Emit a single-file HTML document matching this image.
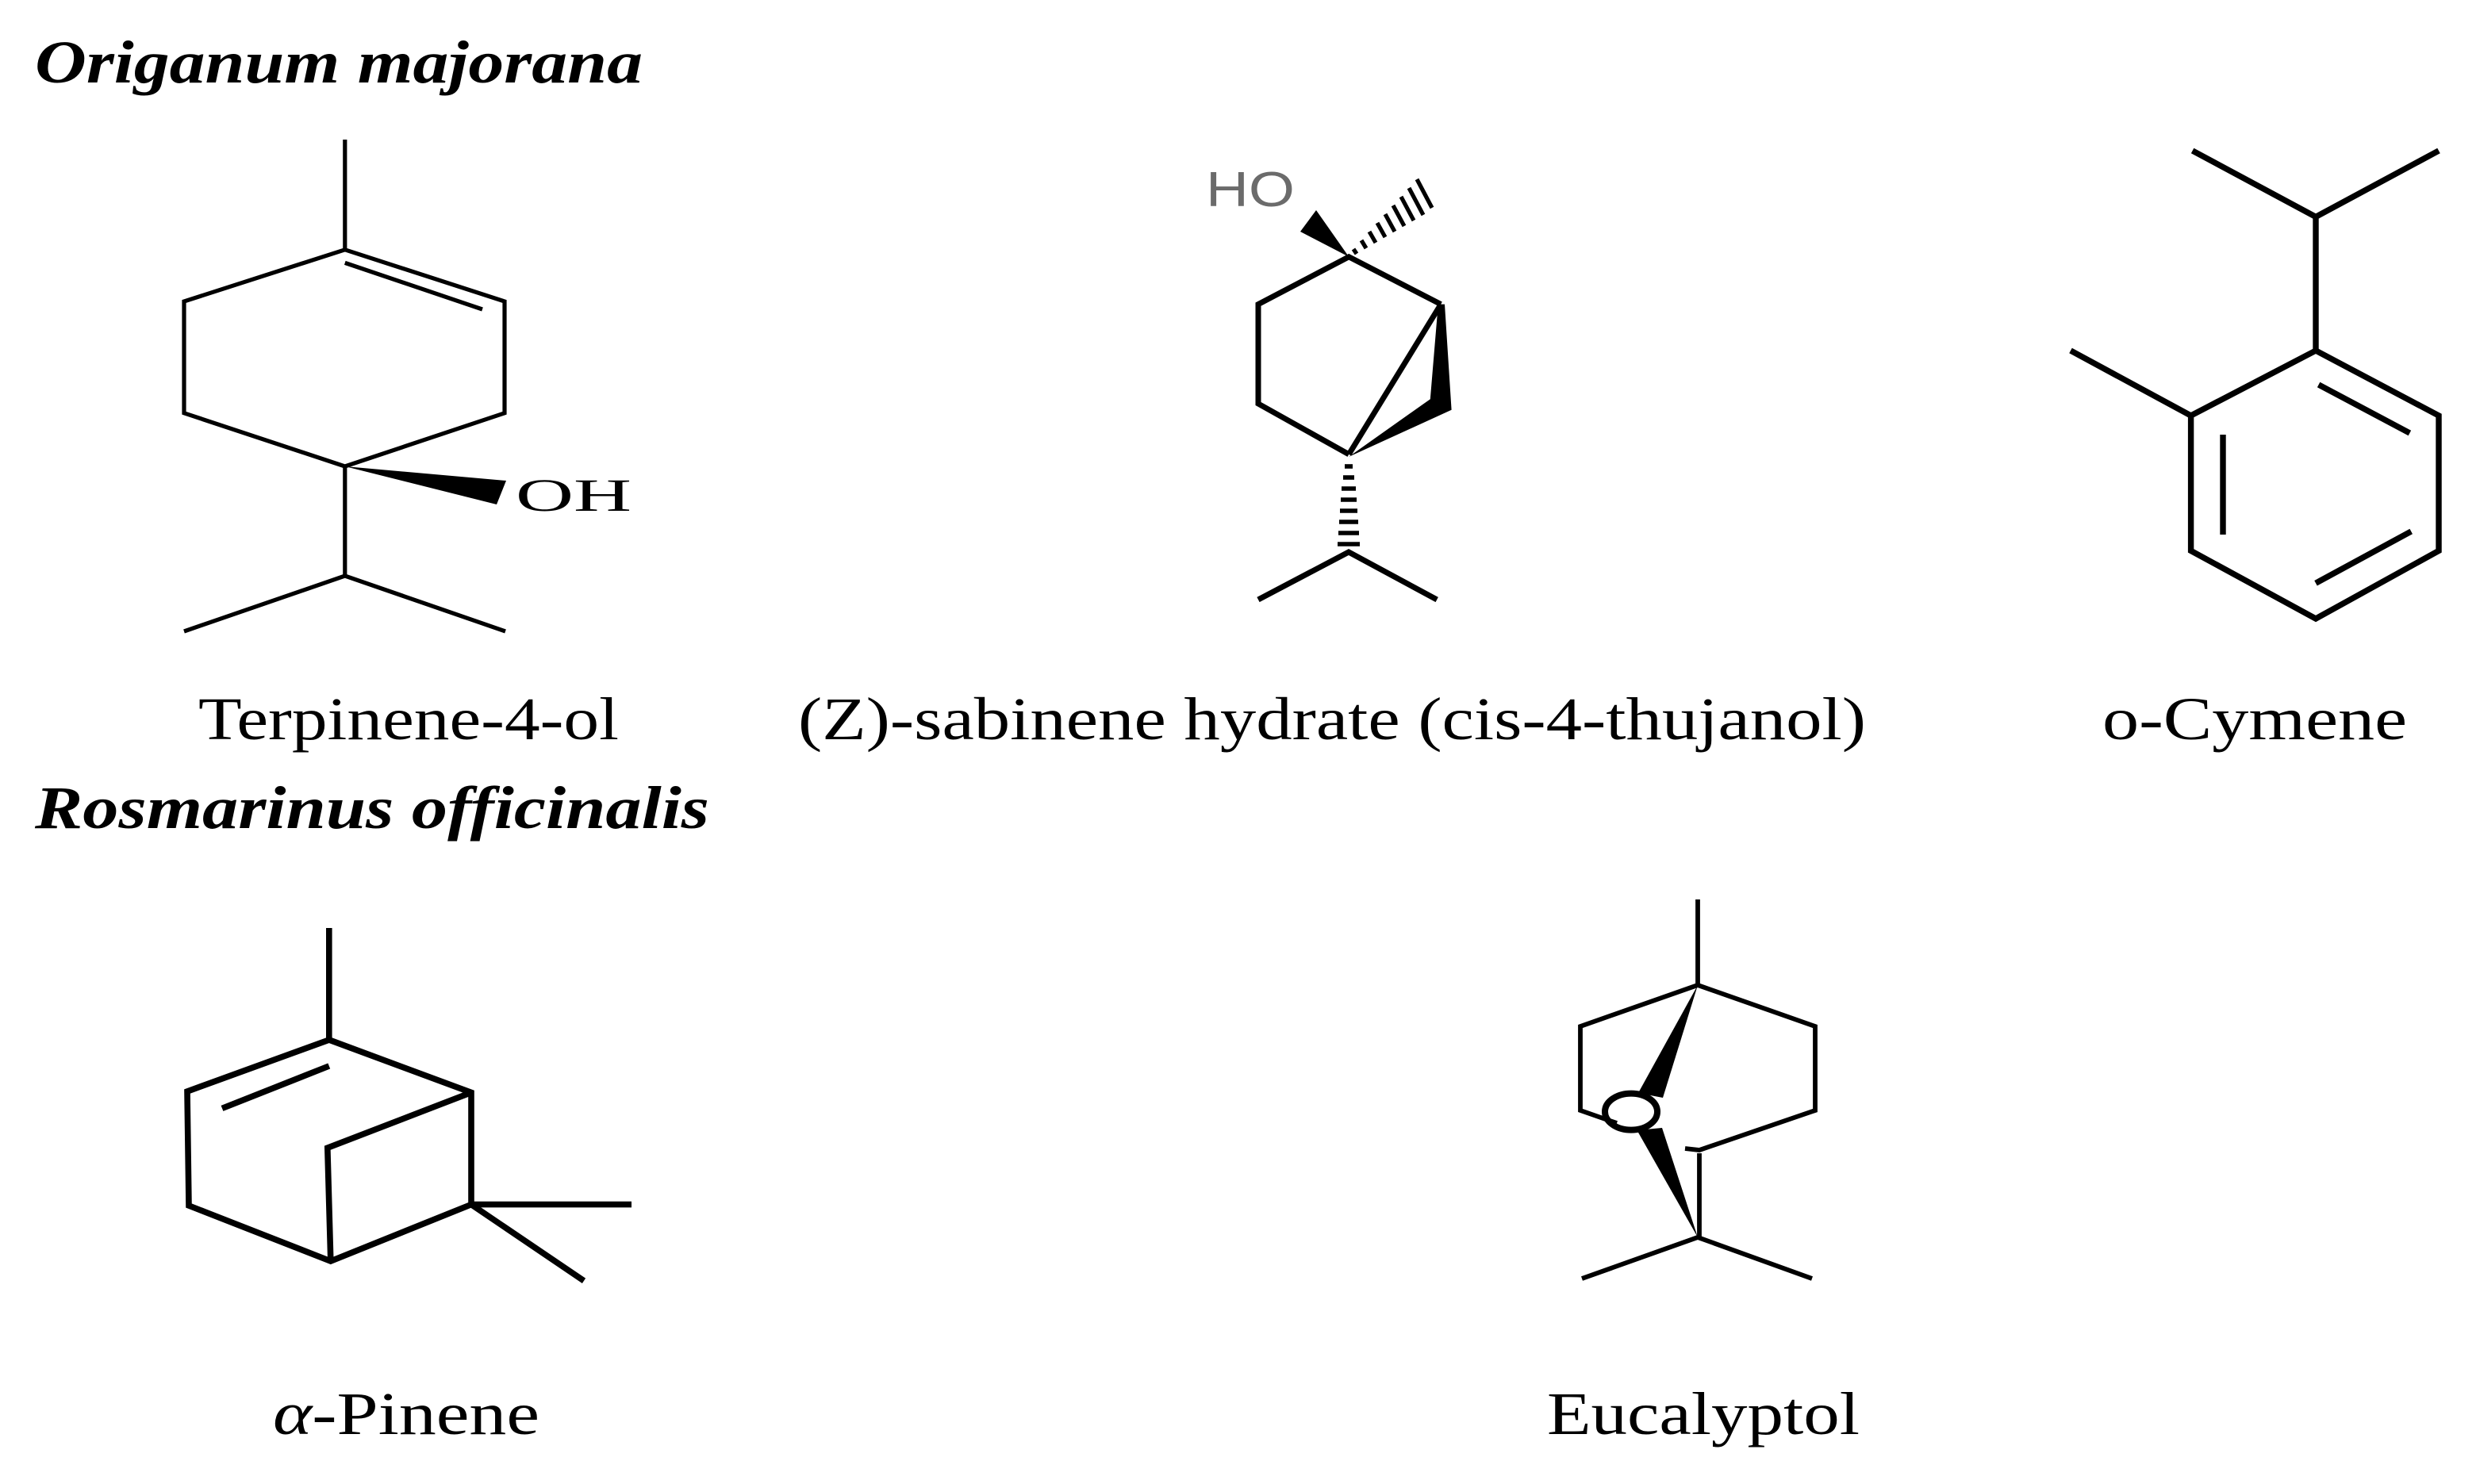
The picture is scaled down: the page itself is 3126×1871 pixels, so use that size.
<!DOCTYPE html>
<html><head><meta charset="utf-8"><style>
html,body{margin:0;padding:0;background:#fff;}
svg{display:block;}
</style></head><body>
<svg width="3126" height="1871" viewBox="0 0 1563 935.5" xmlns="http://www.w3.org/2000/svg">
<rect width="1563" height="935.5" fill="#fff"/>
<g font-family="Liberation Serif, serif" fill="#000">
<text x="22" y="52" font-size="38" font-weight="bold" font-style="italic" textLength="383" lengthAdjust="spacingAndGlyphs">Origanum majorana</text>
<text x="22" y="522" font-size="38" font-weight="bold" font-style="italic" textLength="425" lengthAdjust="spacingAndGlyphs">Rosmarinus officinalis</text>
<text x="125" y="466" font-size="38" textLength="265" lengthAdjust="spacingAndGlyphs">Terpinene-4-ol</text>
<text x="503" y="466" font-size="38" textLength="673" lengthAdjust="spacingAndGlyphs">(Z)-sabinene hydrate (cis-4-thujanol)</text>
<text x="1325" y="466" font-size="38" textLength="192" lengthAdjust="spacingAndGlyphs">o-Cymene</text>
<text x="172" y="904" font-size="38" textLength="168" lengthAdjust="spacingAndGlyphs"><tspan font-style="italic">α</tspan>-Pinene</text>
<text x="975" y="904" font-size="38" textLength="197" lengthAdjust="spacingAndGlyphs">Eucalyptol</text>
</g>

<!-- Terpinene-4-ol -->
<g stroke="#000" stroke-width="2.6" fill="none" stroke-linejoin="miter">
<line x1="217.4" y1="88" x2="217.4" y2="157.4"/>
<polygon points="217.4,157.4 318,190 318,260.4 217.4,294 116,260.4 116,190"/>
<line x1="217.4" y1="165.7" x2="304" y2="195"/>
<line x1="217.4" y1="294" x2="217.4" y2="363"/>
<polyline points="116,398 217.4,363 318.5,398"/>
</g>
<polygon points="217.4,294 319,303 313,318" fill="#000"/>
<text x="325" y="322" font-family="Liberation Serif, serif" font-size="29" fill="#000" textLength="73" lengthAdjust="spacingAndGlyphs">OH</text>

<!-- Sabinene hydrate -->
<text x="760" y="130" font-family="Liberation Sans, sans-serif" font-size="31" fill="#6b6b6b" textLength="56" lengthAdjust="spacingAndGlyphs">HO</text>
<g stroke="#000" stroke-width="3.5" fill="none">
<polyline points="908.1,191.8 850.1,161.9 793,191.8 793,254.5 850.1,286.4"/>
<line x1="908.1" y1="191.8" x2="850.1" y2="286.4"/>
<polyline points="793,378 850,348 905.6,378"/>
</g>
<polygon points="850.1,161.9 819.5,146 829.5,132.5" fill="#000"/>
<polygon points="906.4,191.8 910.5,191.8 914.8,258.4 850,288 901.4,251.6" fill="#000"/>
<g stroke="#000" stroke-width="2.6">
<line x1="853" y1="157" x2="855" y2="160"/>
<line x1="858" y1="151.5" x2="861" y2="156.5"/>
<line x1="863" y1="146" x2="867" y2="153"/>
<line x1="868" y1="140.5" x2="873" y2="149.5"/>
<line x1="873" y1="135" x2="879" y2="146"/>
<line x1="878" y1="129.5" x2="885" y2="142.5"/>
<line x1="883" y1="124" x2="891" y2="139"/>
<line x1="888" y1="118.5" x2="897" y2="135.5"/>
<line x1="893" y1="113" x2="902.5" y2="131"/>
</g>
<g stroke="#000" stroke-width="2.8">
<line x1="847.5" y1="294" x2="852.5" y2="294"/>
<line x1="846.5" y1="301" x2="853.5" y2="301"/>
<line x1="845.5" y1="308" x2="854.5" y2="308"/>
<line x1="845" y1="315" x2="855" y2="315"/>
<line x1="844.5" y1="322" x2="855.5" y2="322"/>
<line x1="844" y1="329" x2="856" y2="329"/>
<line x1="843.5" y1="336" x2="856.5" y2="336"/>
<line x1="843" y1="343" x2="857" y2="343"/>
</g>

<!-- o-Cymene -->
<g stroke="#000" stroke-width="3.7" fill="none">
<polyline points="1381.8,95 1459.5,136.7 1537,95"/>
<line x1="1459.5" y1="136.7" x2="1459.5" y2="221"/>
<polygon points="1459.5,221 1537,262 1537,347.2 1459.5,390 1380.8,347.2 1380.8,262"/>
<line x1="1380.8" y1="262" x2="1305" y2="221"/>
<line x1="1461.3" y1="242.5" x2="1518.7" y2="273"/>
<line x1="1401" y1="274" x2="1401" y2="337"/>
<line x1="1459.5" y1="367.6" x2="1519.6" y2="335"/>
</g>

<!-- alpha-Pinene -->
<g stroke="#000" stroke-width="3.8" fill="none">
<line x1="207.4" y1="585" x2="207.4" y2="655.5"/>
<polygon points="207.4,655.5 297,688.7 297,759.3 208.4,795 119,760 118,688"/>
<polyline points="297,688.7 206.4,723.6 208.4,795"/>
<line x1="140" y1="698.7" x2="207.4" y2="672"/>
<line x1="297" y1="759.3" x2="398" y2="759.3"/>
<line x1="297" y1="759.3" x2="368" y2="807.4"/>
</g>

<!-- Eucalyptol -->
<g stroke="#000" stroke-width="2.9" fill="none">
<line x1="1070" y1="567" x2="1070" y2="621"/>
<polyline points="1019,708 996,700 996,647 1070,621 1144,647 1144,700 1071,725 1062,724"/>
<line x1="1071" y1="727" x2="1071" y2="780"/>
<polyline points="997,806 1070,780 1142,806"/>
</g>
<ellipse cx="1028" cy="700.8" rx="16.5" ry="11.5" fill="none" stroke="#000" stroke-width="4"/>
<polygon points="1070,621 1032.5,689 1048,692" fill="#000"/>
<polygon points="1031.7,712.5 1047.5,711 1070,780" fill="#000"/>
</svg>
</body></html>
